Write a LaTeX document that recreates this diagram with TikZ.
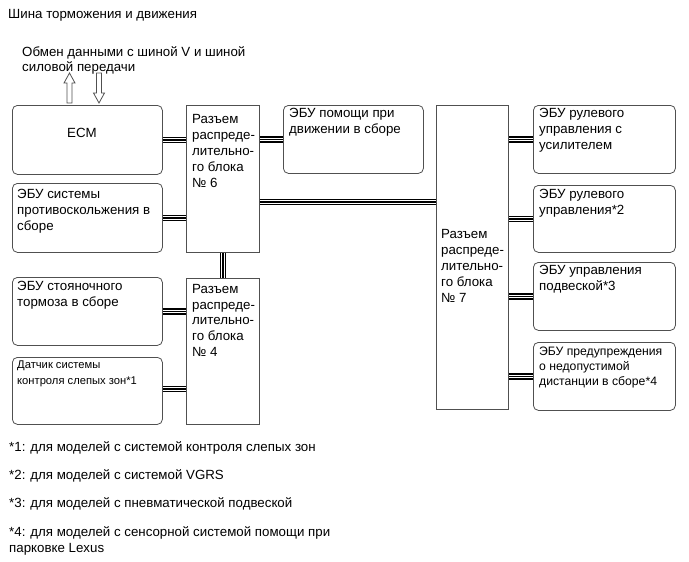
\documentclass[tikz,border=0pt]{standalone}
\usepackage{fontspec}
\setmainfont{Liberation Sans}
\definecolor{bd}{RGB}{80,80,80}
\newcommand{\fsA}{\fontsize{13.3}{15.8}\selectfont}
\newcommand{\fsB}{\fontsize{11.2}{15.6}\selectfont}
\newcommand{\fsC}{\fontsize{12.2}{15.2}\selectfont}
\begin{document}
\begin{tikzpicture}[x=1pt,y=-1pt,
  rbox/.style={draw=bd, line width=0.8pt, rounded corners=5pt, anchor=north west, inner sep=0pt},
  sbox/.style={draw=bd, line width=0.8pt, anchor=north west, inner sep=0pt},
  tl/.style={anchor=north west, align=left, inner sep=0pt, font=\fsA},
  tri/.style={line width=6.3pt, draw=black, postaction={draw=white, line width=3.8pt}, postaction={draw=black, line width=1.3pt}},
  hollow/.style={draw=bd, line width=0.8pt, fill=white, line join=miter}
]
\useasboundingbox (0,0) rectangle (689,562);

% title
\node[tl] (title) at (8,9.5) {Шина торможения и движения};
\node[tl] (comm) at (22,46) {Обмен данными с шиной V и шиной\\силовой передачи};

% arrows
\draw[hollow] (69.5,73) -- (75,83) -- (72,83) -- (72,103) -- (67,103) -- (67,83) -- (64,83) -- cycle;
\draw[hollow] (99,103) -- (104.5,93) -- (101.5,93) -- (101.5,73) -- (96.5,73) -- (96.5,93) -- (93.5,93) -- cycle;

% left boxes
\node[rbox, minimum width=150pt, minimum height=69pt] (ecm) at (12,105) {};
\node[font=\fsA] (ecmt) at (82,133) {ECM};
\node[rbox, minimum width=150pt, minimum height=69pt,
  label={[tl, xshift=5pt, yshift=-6.5pt]north west:{ЭБУ системы\\противоскольжения в\\сборе}}] (abs) at (12,183) {};
\node[rbox, minimum width=150pt, minimum height=68pt,
  label={[tl, xshift=5pt, yshift=-4.5pt]north west:{ЭБУ стояночного\\тормоза в сборе}}] (epb) at (12,277) {};
\node[rbox, minimum width=150pt, minimum height=67pt,
  label={[tl, font=\fsB, xshift=5pt, yshift=-4pt]north west:{Датчик системы\\контроля слепых зон*1}}] (bsm) at (12,357) {};

% junction blocks
\node[sbox, minimum width=73pt, minimum height=147pt,
  label={[tl, xshift=6pt, yshift=-9.5pt]north west:{Разъем\\распреде-\\лительно-\\го блока\\№ 6}}] (b6) at (186,105) {};
\node[sbox, minimum width=73pt, minimum height=146pt,
  label={[tl, xshift=6pt, yshift=-6pt]north west:{Разъем\\распреде-\\лительно-\\го блока\\№ 4}}] (b4) at (186,278) {};
\node[sbox, minimum width=72pt, minimum height=304pt,
  label={[tl, xshift=5pt, yshift=-124.5pt]north west:{Разъем\\распреде-\\лительно-\\го блока\\№ 7}}] (b7) at (436,105) {};

% middle box
\node[rbox, minimum width=140pt, minimum height=68pt,
  label={[tl, xshift=6pt, yshift=-3.5pt]north west:{ЭБУ помощи при\\движении в сборе}}] (das) at (283,105) {};

% right boxes
\node[rbox, minimum width=142pt, minimum height=68pt,
  label={[tl, xshift=6pt, yshift=-3.5pt]north west:{ЭБУ рулевого\\управления с\\усилителем}}] (r1) at (533,105) {};
\node[rbox, minimum width=142pt, minimum height=67pt,
  label={[tl, xshift=6pt, yshift=-4.5pt]north west:{ЭБУ рулевого\\управления*2}}] (r2) at (533,185) {};
\node[rbox, minimum width=142pt, minimum height=68pt,
  label={[tl, xshift=6pt, yshift=-3.5pt]north west:{ЭБУ управления\\подвеской*3}}] (r3) at (533,262) {};
\node[rbox, minimum width=142pt, minimum height=68pt,
  label={[tl, font=\fsC, xshift=6pt, yshift=-4.5pt]north west:{ЭБУ предупреждения\\о недопустимой\\дистанции в сборе*4}}] (r4) at (533,342) {};

% connectors
\coordinate (l7) at (0,202);
\draw[tri] (ecm.east) -- (ecm.east -| b6.west);
\draw[tri] (abs.east) -- (abs.east -| b6.west);
\draw[tri] (epb.east) -- (epb.east -| b4.west);
\draw[tri] ([yshift=2pt]bsm.east) -- ([yshift=2pt]bsm.east -| b4.west);
\draw[tri] (das.west) -- (das.west -| b6.east);
\draw[tri] (b6.south) -- (b4.north);
\draw[tri] (b6.east |- l7) -- (b7.west |- l7);
\draw[tri] (r1.west) -- (r1.west -| b7.east);
\draw[tri] (r2.west) -- (r2.west -| b7.east);
\draw[tri] (r3.west) -- (r3.west -| b7.east);
\draw[tri] (r4.west) -- (r4.west -| b7.east);

% footnotes
\node[tl] (f1) at (9,441.5) {*1: для моделей с системой контроля слепых зон};
\node[tl] (f2) at (9,469.5) {*2: для моделей с системой VGRS};
\node[tl] (f3) at (9,497.5) {*3: для моделей с пневматической подвеской};
\node[tl] (f4) at (9,526.5) {*4: для моделей с сенсорной системой помощи при\\парковке Lexus};
\end{tikzpicture}
\end{document}
